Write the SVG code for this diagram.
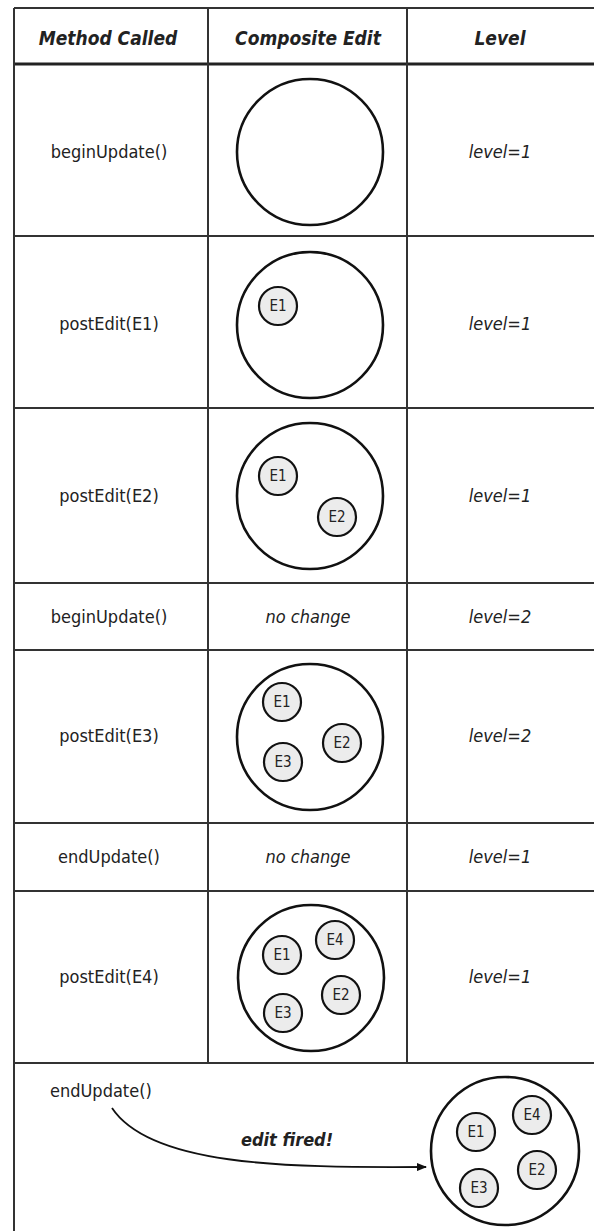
<svg xmlns="http://www.w3.org/2000/svg" width="594" height="1231" viewBox="0 0 594 1231">
<defs>
<style>
text{font-family:"DejaVu Sans Condensed","DejaVu Sans",sans-serif;font-stretch:condensed;fill:#222;text-anchor:middle}
.hd{font-size:19px;font-weight:bold;font-style:italic}
.m{font-size:18px}
.lv{font-size:18px;font-style:italic}
.e{font-size:15px}
.big{fill:#fff;stroke:#111;stroke-width:2.6}
.sm{fill:#ececec;stroke:#111;stroke-width:2.2}
.grid{stroke:#333;stroke-width:2;fill:none}
.hl{stroke:#222;stroke-width:3}
.fired{font-size:18px;font-weight:bold;font-style:italic}
</style>
<marker id="ah" markerWidth="10" markerHeight="8" refX="9" refY="4" orient="auto" markerUnits="userSpaceOnUse">
<path d="M0,0 L10,4 L0,8 Z" fill="#111"/>
</marker>
</defs>
<rect x="0" y="0" width="594" height="1231" fill="#fff"/>
<g id="grid" class="grid">
<line x1="14" y1="8" x2="594" y2="8"/>
<line x1="14" y1="64" x2="594" y2="64" class="hl"/>
<line x1="14" y1="236" x2="594" y2="236"/>
<line x1="14" y1="408" x2="594" y2="408"/>
<line x1="14" y1="583" x2="594" y2="583"/>
<line x1="14" y1="650" x2="594" y2="650"/>
<line x1="14" y1="823" x2="594" y2="823"/>
<line x1="14" y1="891" x2="594" y2="891"/>
<line x1="14" y1="1063" x2="594" y2="1063"/>
<line x1="14" y1="8" x2="14" y2="1231"/>
<line x1="208" y1="8" x2="208" y2="1063"/>
<line x1="407" y1="8" x2="407" y2="1063"/>
</g>
<g id="header">
<text class="hd" x="108" y="45">Method Called</text>
<text class="hd" x="308" y="45">Composite Edit</text>
<text class="hd" x="500" y="45">Level</text>
</g>
<g id="row1">
<text class="m" x="109" y="158">beginUpdate()</text>
<circle class="big" cx="310" cy="152" r="73"/>
<text class="lv" x="500" y="158">level=1</text>
</g>
<g id="row2">
<text class="m" x="109" y="330">postEdit(E1)</text>
<circle class="big" cx="310" cy="325" r="73"/>
<circle class="sm" cx="278" cy="306" r="19"/><text class="e" x="278" y="311">E1</text>
<text class="lv" x="500" y="330">level=1</text>
</g>
<g id="row3">
<text class="m" x="109" y="502">postEdit(E2)</text>
<circle class="big" cx="310" cy="496" r="73"/>
<circle class="sm" cx="278" cy="476" r="19"/><text class="e" x="278" y="481">E1</text>
<circle class="sm" cx="337" cy="517" r="19"/><text class="e" x="337" y="522">E2</text>
<text class="lv" x="500" y="502">level=1</text>
</g>
<g id="row4">
<text class="m" x="109" y="623">beginUpdate()</text>
<text class="lv" x="308" y="623">no change</text>
<text class="lv" x="500" y="623">level=2</text>
</g>
<g id="row5">
<text class="m" x="109" y="742">postEdit(E3)</text>
<circle class="big" cx="310" cy="737" r="73"/>
<circle class="sm" cx="282" cy="702" r="19"/><text class="e" x="282" y="707">E1</text>
<circle class="sm" cx="342" cy="743" r="19"/><text class="e" x="342" y="748">E2</text>
<circle class="sm" cx="283" cy="762" r="19"/><text class="e" x="283" y="767">E3</text>
<text class="lv" x="500" y="742">level=2</text>
</g>
<g id="row6">
<text class="m" x="109" y="863">endUpdate()</text>
<text class="lv" x="308" y="863">no change</text>
<text class="lv" x="500" y="863">level=1</text>
</g>
<g id="row7">
<text class="m" x="109" y="983">postEdit(E4)</text>
<circle class="big" cx="311" cy="978" r="73"/>
<circle class="sm" cx="282" cy="955" r="19"/><text class="e" x="282" y="960">E1</text>
<circle class="sm" cx="335" cy="940" r="19"/><text class="e" x="335" y="945">E4</text>
<circle class="sm" cx="341" cy="995" r="19"/><text class="e" x="341" y="1000">E2</text>
<circle class="sm" cx="283" cy="1013" r="19"/><text class="e" x="283" y="1018">E3</text>
<text class="lv" x="500" y="983">level=1</text>
</g>
<g id="row8">
<text class="m" x="50" y="1097" style="text-anchor:start">endUpdate()</text>
<circle class="big" cx="505" cy="1151" r="74"/>
<circle class="sm" cx="476" cy="1132" r="19"/><text class="e" x="476" y="1137">E1</text>
<circle class="sm" cx="532" cy="1115" r="19"/><text class="e" x="532" y="1120">E4</text>
<circle class="sm" cx="537" cy="1170" r="19"/><text class="e" x="537" y="1175">E2</text>
<circle class="sm" cx="479" cy="1188" r="19"/><text class="e" x="479" y="1193">E3</text>
<text class="fired" x="287" y="1146">edit fired!</text>
</g>
<g id="connectors">
<path d="M112,1108 C150,1165 280,1168 426,1167" fill="none" stroke="#111" stroke-width="1.8" marker-end="url(#ah)"/>
</g>
</svg>
